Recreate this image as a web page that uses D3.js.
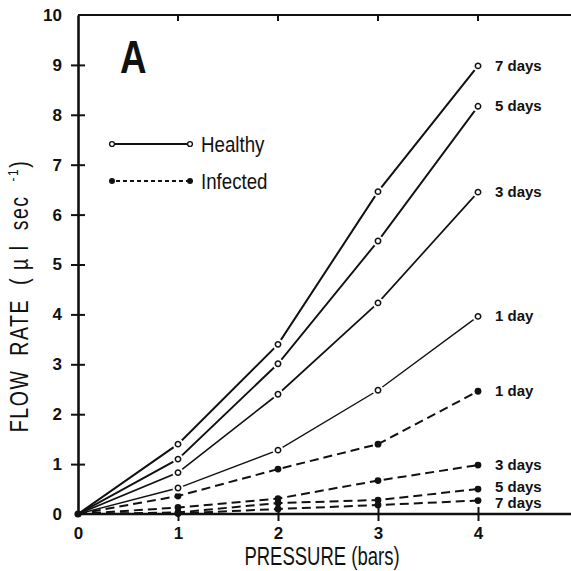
<!DOCTYPE html>
<html>
<head>
<meta charset="utf-8">
<script src="https://cdn.jsdelivr.net/npm/d3@7"></script>
<style>
  html, body { margin: 0; padding: 0; background: #fff; }
  svg { display: block; }
  .tick text { font-family: "Liberation Sans", Arial, sans-serif; font-weight: 700; font-size: 17px; fill: #111; }
</style>
</head>
<body>
<div id="chart"></div>
<script>
// Flow rate vs pressure, healthy vs infected, by days after treatment
const pressures = [0, 1, 2, 3, 4];
const dayLabels = ["1 day", "3 days", "5 days", "7 days"];

const healthy1 = [0, 0.52, 1.28, 2.48, 3.96];
const healthy3 = [0, 0.83, 2.40, 4.23, 6.45];
const healthy5 = [0, 1.10, 3.01, 5.47, 8.17];
const healthy7 = [0, 1.40, 3.40, 6.46, 8.98];

const infected1 = [0, 0.36, 0.90, 1.40, 2.46];
const infected3 = [0, 0.13, 0.31, 0.67, 0.98];
const infected5 = [0, 0.03, 0.22, 0.28, 0.50];
const infected7 = [0, 0.01, 0.10, 0.18, 0.27];

const xTicks = [0, 1, 2, 3, 4];
const yTicks = [0, 1, 2, 3, 4, 5, 6, 7, 8, 9, 10];

const width = 571, height = 571;
const ink = "#111";
const titleFont = "'Liberation Sans', Arial, sans-serif";

const svg = d3.select("#chart").append("svg")
  .attr("width", width)
  .attr("height", height);

const x = d3.scaleLinear().domain([0, 4.93]).range([78, 571]);
const y = d3.scaleLinear().domain([0, 10]).range([514, 15]);

// top frame
svg.append("line")
  .attr("x1", x(0)).attr("x2", width)
  .attr("y1", y(10)).attr("y2", y(10))
  .attr("stroke", ink).attr("stroke-width", 2.2);
svg.selectAll(".toptick")
  .data(xTicks.slice(1))
  .enter().append("line")
  .attr("x1", (d) => x(d)).attr("x2", (d) => x(d))
  .attr("y1", y(10)).attr("y2", y(10) + 6)
  .attr("stroke", ink).attr("stroke-width", 2);

// axes
const xAxis = svg.append("g")
  .attr("transform", `translate(0,${y(0)})`)
  .call(d3.axisBottom(x).tickValues(xTicks).tickSize(7).tickSizeOuter(0).tickPadding(6).tickFormat(d3.format("d")));
xAxis.select(".domain").attr("stroke", ink).attr("stroke-width", 2.4)
  .attr("d", `M${x(0)},0H${width}`);
xAxis.selectAll(".tick line").attr("y1", -7).attr("stroke", ink).attr("stroke-width", 2);
xAxis.selectAll(".tick").filter((d) => d === 0).select("line").remove();

const yAxis = svg.append("g")
  .attr("transform", `translate(${x(0)},0)`)
  .call(d3.axisLeft(y).tickValues(yTicks).tickSize(7).tickSizeOuter(0).tickPadding(9).tickFormat(d3.format("d")));
yAxis.select(".domain").attr("stroke", ink).attr("stroke-width", 2.6);
yAxis.selectAll(".tick line").attr("x1", 7).attr("stroke", ink).attr("stroke-width", 2);
yAxis.selectAll(".tick").filter((d) => d === 0 || d === 10).select("line").remove();

// axis titles (narrowed to mimic the condensed face)
svg.append("text")
  .attr("transform", "translate(322,565) scale(0.74,1)")
  .attr("text-anchor", "middle")
  .attr("font-family", titleFont)
  .attr("font-size", 25)
  .attr("fill", ink)
  .text("PRESSURE (bars)");

const yTitle = svg.append("text")
  .attr("transform", "translate(28,296) rotate(-90) scale(0.78,1)")
  .attr("text-anchor", "middle")
  .attr("font-family", titleFont)
  .attr("font-size", 25)
  .attr("letter-spacing", 2)
  .style("white-space", "pre")
  .attr("fill", ink);
yTitle.append("tspan").text("FLOW  RATE  ( \u00b5 l  sec  ");
yTitle.append("tspan").attr("font-size", 15).attr("dy", -10).text("-1");
yTitle.append("tspan").attr("dy", 10).text(")");

// panel letter
svg.append("text")
  .attr("transform", "translate(120,73) scale(0.8,1)")
  .attr("font-family", titleFont)
  .attr("font-weight", 700)
  .attr("font-size", 46)
  .attr("fill", ink)
  .text("A");

// series
const healthySeries = [healthy1, healthy3, healthy5, healthy7];
const infectedSeries = [infected1, infected3, infected5, infected7];
const healthyWidths = [1.4, 1.7, 1.9, 2.0];

const line = d3.line()
  .x((d, i) => x(pressures[i]))
  .y((d) => y(d));

infectedSeries.forEach((vals) => {
  svg.append("path")
    .attr("d", line(vals))
    .attr("fill", "none")
    .attr("stroke", ink)
    .attr("stroke-width", 2)
    .attr("stroke-dasharray", "9,5");
});

healthySeries.forEach((vals, k) => {
  svg.append("path")
    .attr("d", line(vals))
    .attr("fill", "none")
    .attr("stroke", ink)
    .attr("stroke-width", healthyWidths[k]);
});

// filled markers (skip origin, drawn once below)
infectedSeries.forEach((vals) => {
  svg.selectAll(null)
    .data(vals.slice(1))
    .enter().append("circle")
    .attr("cx", (d, i) => x(pressures[i + 1]))
    .attr("cy", (d) => y(d))
    .attr("r", 3.4)
    .attr("fill", ink);
});

// open markers with a white halo so lines stop short of them
healthySeries.forEach((vals) => {
  const pts = svg.selectAll(null)
    .data(vals.slice(1))
    .enter().append("g")
    .attr("transform", (d, i) => `translate(${x(pressures[i + 1])},${y(d)})`);
  pts.append("circle").attr("r", 5.5).attr("fill", "#fff");
  pts.append("circle").attr("r", 2.7).attr("fill", "#fff").attr("stroke", ink).attr("stroke-width", 1.5);
});

svg.append("circle")
  .attr("cx", x(0)).attr("cy", y(0))
  .attr("r", 3.6).attr("fill", ink);

// end labels
const endLabels = [
  { text: dayLabels[3], v: healthy7[4] },
  { text: dayLabels[2], v: healthy5[4] },
  { text: dayLabels[1], v: healthy3[4] },
  { text: dayLabels[0], v: healthy1[4] },
  { text: dayLabels[0], v: infected1[4] },
  { text: dayLabels[1], v: infected3[4] },
  { text: dayLabels[2], v: infected5[4] + 0.05 },
  { text: dayLabels[3], v: infected7[4] - 0.05 },
];
svg.selectAll(".endlabel")
  .data(endLabels)
  .enter().append("text")
  .attr("x", x(4) + 17)
  .attr("y", (d) => y(d.v) + 1)
  .attr("dominant-baseline", "middle")
  .attr("font-family", titleFont)
  .attr("font-weight", 700)
  .attr("font-size", 15)
  .attr("fill", ink)
  .text((d) => d.text);

// legend
const legend = svg.append("g").attr("transform", "translate(112,144)");
legend.append("line").attr("x1", 0).attr("x2", 78).attr("y1", 0).attr("y2", 0)
  .attr("stroke", ink).attr("stroke-width", 1.8);
legend.append("circle").attr("cx", 0).attr("cy", 0).attr("r", 2.4).attr("fill", "#fff").attr("stroke", ink).attr("stroke-width", 1.4);
legend.append("circle").attr("cx", 78).attr("cy", 0).attr("r", 2.4).attr("fill", "#fff").attr("stroke", ink).attr("stroke-width", 1.4);
legend.append("line").attr("x1", 4).attr("x2", 76).attr("y1", 37).attr("y2", 37)
  .attr("stroke", ink).attr("stroke-width", 1.8).attr("stroke-dasharray", "4,3");
legend.append("circle").attr("cx", 0).attr("cy", 37).attr("r", 3).attr("fill", ink);
legend.append("circle").attr("cx", 78).attr("cy", 37).attr("r", 3).attr("fill", ink);
legend.selectAll(".ltext")
  .data(["Healthy", "Infected"])
  .enter().append("text")
  .attr("transform", (d, i) => `translate(89,${i * 37 + 8}) scale(0.85,1)`)
  .attr("font-family", titleFont)
  .attr("font-size", 22)
  .attr("fill", ink)
  .text((d) => d);
</script>
</body>
</html>
